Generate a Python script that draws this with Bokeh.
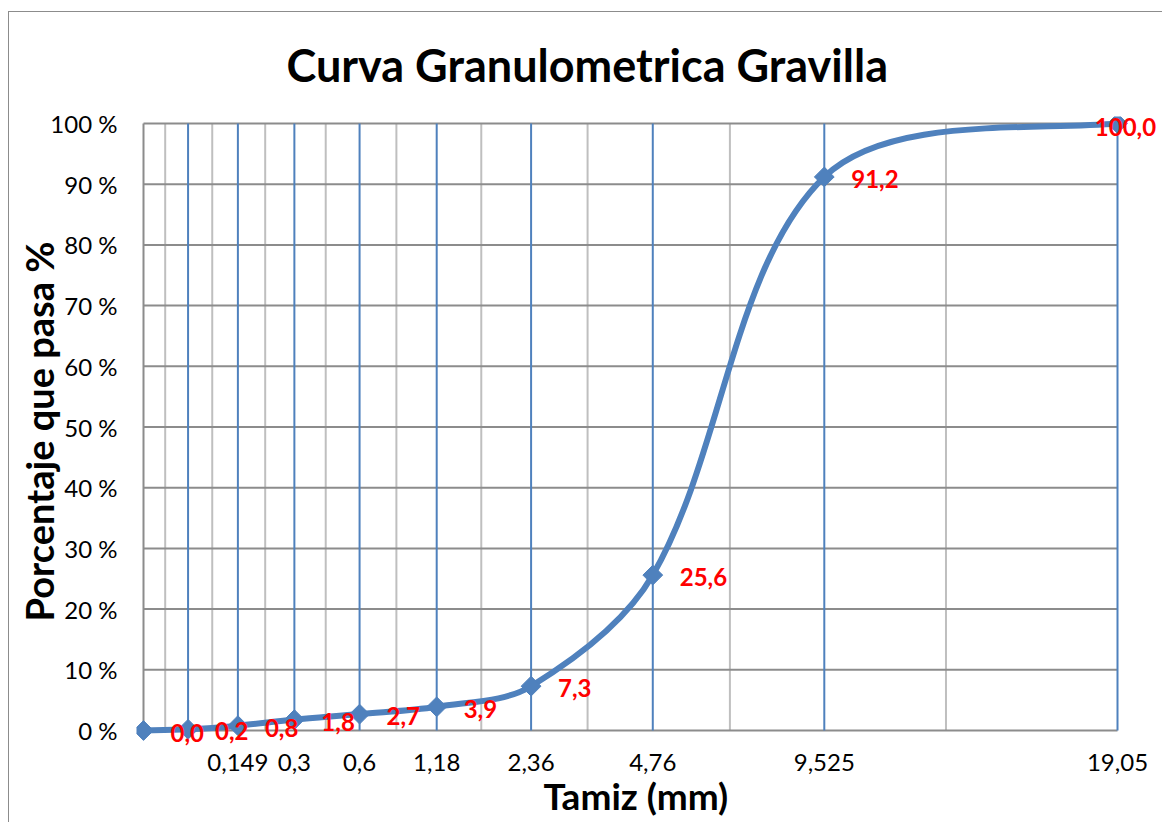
import numpy as np
from bokeh.plotting import figure
from bokeh.models import Range1d, FixedTicker, ColumnDataSource, LabelSet, Title
from bokeh.core.properties import value
from bokeh.embed import file_html
from bokeh.resources import INLINE

# ---------------- data ----------------
sieve_sizes = ["Fondo", "0,075", "0,149", "0,3", "0,6", "1,18", "2,36", "4,76", "9,525", "19,05"]
sieve_pos = [10, 9, 8, 7, 6, 5, 4, 3, 2, 1]          # plotting position of each sieve on the axis
passing = [0.0, 0.2, 0.8, 1.8, 2.7, 3.9, 7.3, 25.6, 91.2, 100.0]
tick_pos = [8, 7, 6, 5, 4, 3, 2, 1]
tick_labels = ["0,149", "0,3", "0,6", "1,18", "2,36", "4,76", "9,525", "19,05"]
minor_grid = [9.5, 8.5, 7.5, 6.5, 5.5, 4.5, 3.5, 2.5, 1.5]
y_ticks = [0, 10, 20, 30, 40, 50, 60, 70, 80, 90, 100]

BLUE = "#4F81BD"
GRID_DARK = "#8C8C8C"
GRID_LIGHT = "#BFBFBF"
FONT = "Lato"

# ---------------- layout (page pixels) ----------------
OX, OY = 8, 11                     # chart-area border offset
W, H = 1162 - OX, 822 - OY
AX_L, AX_R, AX_T, AX_B = 142, 1116, 122, 729     # where the axes sit (frame-relative calibration)
FR_L, FR_R, FR_T, FR_B = 135, 1160, 115, 745     # drawing frame (larger so labels are not clipped)
PX_DEC = AX_R - AX_L                 # pixels for one decade (10 -> 1)
PX_PCT = (AX_B - AX_T) / 100.0

x_start = 10 ** (1 + (AX_L - FR_L) / PX_DEC)
x_end = 10 ** (-(FR_R - AX_R) / PX_DEC)
y_start = -(FR_B - AX_B) / PX_PCT
y_end = 100 + (AX_T - FR_T) / PX_PCT

p = figure(width=W, height=H, x_axis_type="log",
           x_range=Range1d(x_start, x_end), y_range=Range1d(y_start, y_end),
           output_backend="svg", toolbar_location=None,
           min_border_left=FR_L - OX, min_border_right=W - (FR_R - OX),
           min_border_top=FR_T - OY, min_border_bottom=H - (FR_B - OY))
p.margin = (OY, 0, 0, OX)
p.styles = {"border-left": "1px solid #8C8C8C", "border-top": "1px solid #8C8C8C"}
p.outline_line_color = None
p.background_fill_color = "white"
p.border_fill_color = "white"
p.xgrid.grid_line_color = None
p.ygrid.grid_line_color = None

# title
p.title.text = "Curva Granulometrica Gravilla"
p.title.text_font = FONT
p.title.text_font_style = "bold"
p.title.text_font_size = "45px"
p.title.text_color = "black"
p.title.align = "left"
p.title.vertical_align = "top"
p.title.offset = 150
p.title.standoff = 46

# axes
p.xaxis.ticker = FixedTicker(ticks=tick_pos)
p.xaxis.major_label_overrides = {float(t): l for t, l in zip(tick_pos, tick_labels)}
p.yaxis.ticker = FixedTicker(ticks=y_ticks)
p.yaxis.major_label_overrides = {float(t): f"{t} %" for t in y_ticks}
for ax in (p.xaxis[0], p.yaxis[0]):
    ax.axis_line_color = None
    ax.major_tick_out = 0
    ax.major_tick_in = 0
    ax.minor_tick_out = 0
    ax.minor_tick_in = 0
    ax.major_label_text_font = FONT
    ax.major_label_text_font_size = "24px"
    ax.major_label_text_color = "black"
    ax.axis_label_text_font = FONT
    ax.axis_label_text_font_style = "bold"
    ax.axis_label_text_color = "black"
p.xaxis.major_label_standoff = 7
p.yaxis.axis_label = "Porcentaje que pasa %"
p.yaxis.axis_label_text_font_size = "38px"
p.yaxis.major_label_standoff = 19
p.yaxis.axis_label_standoff = -15

# x-axis title, placed under the tick labels
p.add_layout(Title(text="Tamiz (mm)", align="left", offset=407, standoff=-5,
                   text_font=FONT, text_font_style="bold", text_font_size="37px",
                   text_color="black"), "below")

# gridlines (drawn as segments bounded to the axes area)
n_minor = len(minor_grid)
p.segment(x0=minor_grid, y0=[0] * n_minor, x1=minor_grid, y1=[100] * n_minor,
          line_color=GRID_LIGHT, line_width=2)
n_y = len(y_ticks)
p.segment(x0=[sieve_pos[0]] * n_y, y0=y_ticks, x1=[sieve_pos[-1]] * n_y, y1=y_ticks,
          line_color=GRID_DARK, line_width=2)
blue_x = sieve_pos[1:]
p.segment(x0=blue_x, y0=[0] * len(blue_x), x1=blue_x, y1=[100] * len(blue_x),
          line_color=BLUE, line_width=2)
# left axis line
p.segment(x0=[sieve_pos[0]], y0=[0], x1=[sieve_pos[0]], y1=[100],
          line_color=GRID_DARK, line_width=2)

# smoothed curve (Bezier segments through the data points, computed in screen-like space)
X = -np.log10(np.array(sieve_pos, dtype=float)) * PX_DEC
Y = np.array(passing) * PX_PCT
pts = np.column_stack([X, Y])
n = len(pts)
c1s, c2s = [], []
for i in range(n - 1):
    P0 = pts[i - 1] if i > 0 else pts[i]
    P1 = pts[i]
    P2 = pts[i + 1]
    P3 = pts[i + 2] if i + 2 < n else pts[i + 1]
    d01 = np.hypot(*(P1 - P0)); d12 = np.hypot(*(P2 - P1)); d23 = np.hypot(*(P3 - P2))
    c1 = P1 + (P2 - P0) * d12 / (d01 + d12) / 3.0
    c2 = P2 - (P3 - P1) * d12 / (d12 + d23) / 3.0
    c1s.append(c1); c2s.append(c2)
# end tangents: blend chord direction with direction towards the neighbouring control point
c2s[-1] = pts[-1] - ((pts[-1] - pts[-2]) / 3.0 + (pts[-1] - c1s[-1]) / 3.0) / 2.0
c1s[0] = pts[0] + ((pts[1] - pts[0]) / 3.0 + (c2s[0] - pts[0]) / 3.0) / 2.0


def to_data(P):
    return 10 ** (-P[0] / PX_DEC), P[1] / PX_PCT


x0, y0, x1, y1, cx0, cy0, cx1, cy1 = [], [], [], [], [], [], [], []
for i in range(n - 1):
    a = to_data(pts[i]); b = to_data(pts[i + 1]); c = to_data(c1s[i]); d = to_data(c2s[i])
    x0.append(a[0]); y0.append(a[1]); x1.append(b[0]); y1.append(b[1])
    cx0.append(c[0]); cy0.append(c[1]); cx1.append(d[0]); cy1.append(d[1])
p.bezier(x0=x0, y0=y0, x1=x1, y1=y1, cx0=cx0, cy0=cy0, cx1=cx1, cy1=cy1,
         line_color=BLUE, line_width=6)

p.scatter(sieve_pos, passing, marker="square", angle=np.pi / 4, size=14,
          fill_color=BLUE, line_color=BLUE)

# data labels
lab = [f"{v:.1f}".replace(".", ",") for v in passing]
src = ColumnDataSource(dict(x=sieve_pos[:-1], y=passing[:-1], t=lab[:-1]))
p.add_layout(LabelSet(x="x", y="y", text="t", source=src, x_offset=27, y_offset=-2,
                      text_align="left", text_baseline="middle", text_font=value(FONT),
                      text_font_style="bold", text_font_size="24px", text_color="red"))
src2 = ColumnDataSource(dict(x=sieve_pos[-1:], y=passing[-1:], t=lab[-1:]))
p.add_layout(LabelSet(x="x", y="y", text="t", source=src2, x_offset=8, y_offset=-3,
                      text_align="center", text_baseline="middle", text_font=value(FONT),
                      text_font_style="bold", text_font_size="24px", text_color="red"))

open("out.html", "w").write(file_html(p, INLINE))
